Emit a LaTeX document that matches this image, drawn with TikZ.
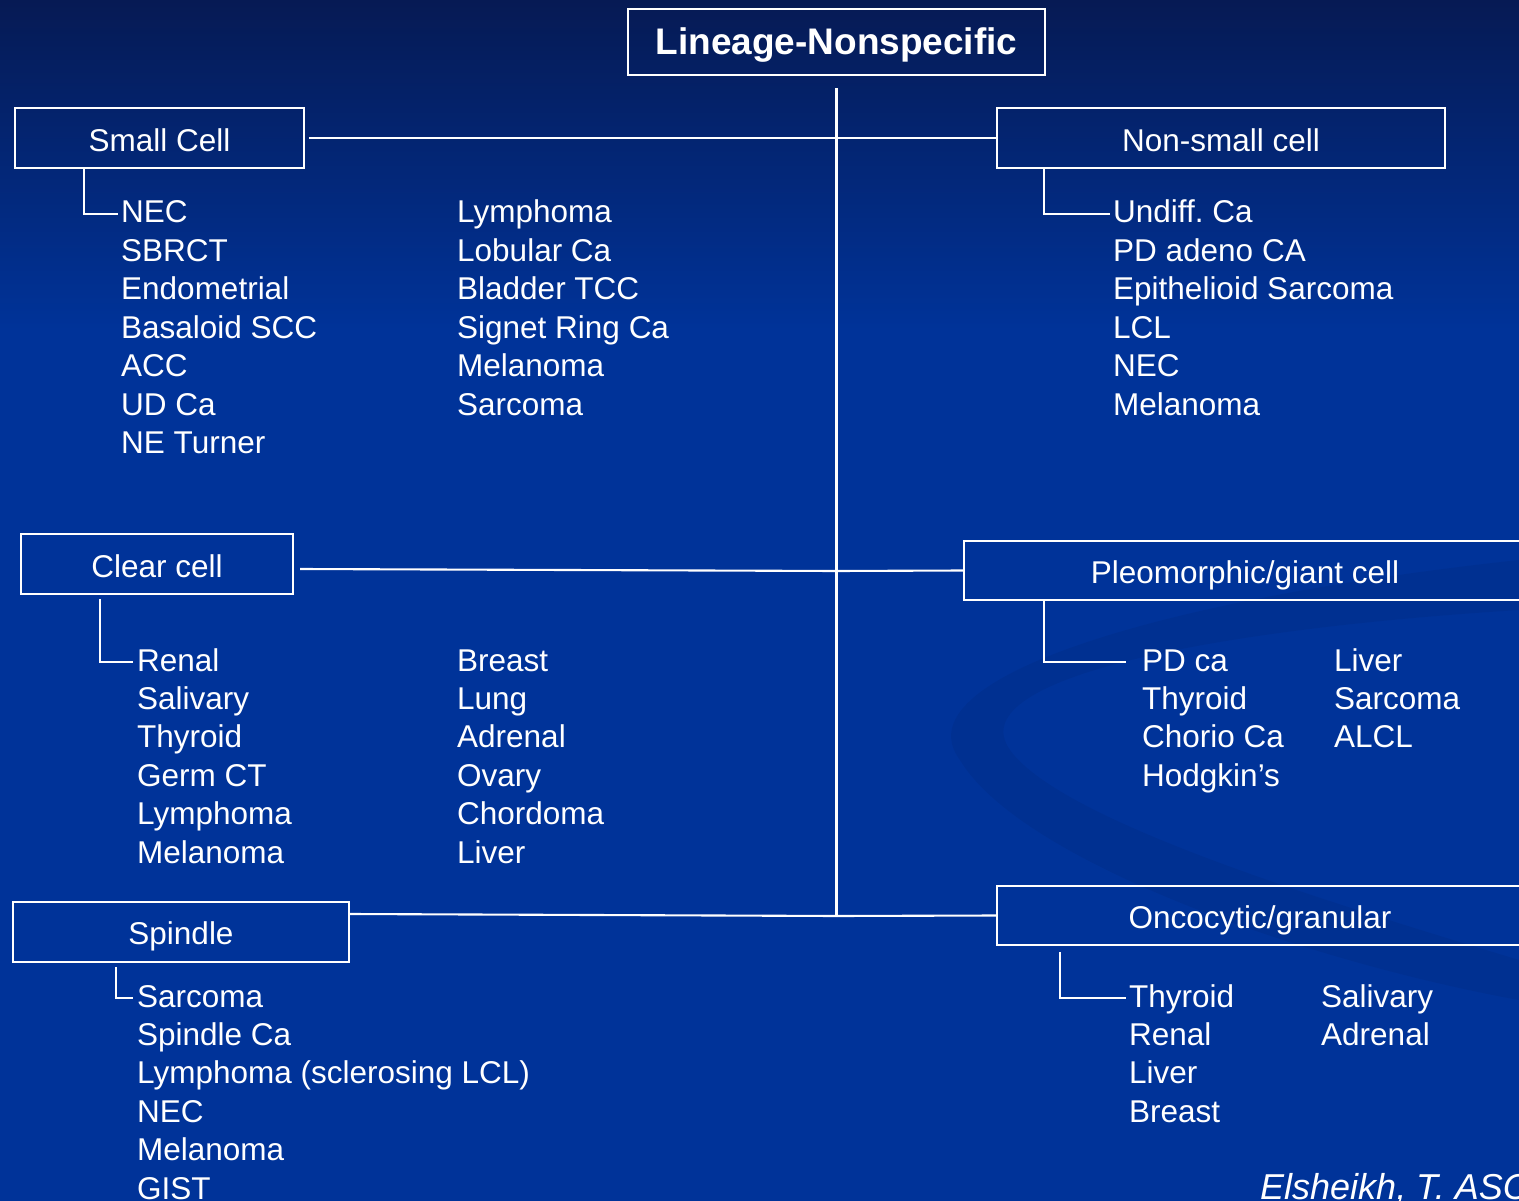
\documentclass[tikz,border=0pt]{standalone}
\usepackage{fontspec}
\setmainfont{Liberation Sans}
\usetikzlibrary{positioning, calc}
\definecolor{navytop}{RGB}{6,26,84}
\definecolor{slideblue}{RGB}{0,51,153}

\tikzset{
  catbox/.style={draw=white, line width=2.1pt, minimum height=60pt, inner sep=0pt,
    text height=26pt, text depth=0pt,
    text=white, font=\fontsize{31.5}{38.4}\selectfont},
  item/.style={anchor=base west, inner sep=0pt, text=white,
    font=\fontsize{31.5}{38.4}\selectfont},
  link/.style={draw=white, line width=2.1pt},
}

\begin{document}
\frenchspacing
\begin{tikzpicture}[x=1pt, y=-1pt]
  \useasboundingbox (0,0) rectangle (1519,1201);
  \clip (0,0) rectangle (1519,1201);
  % slide background
  \fill[slideblue] (0,0) rectangle (1519,1201);
  \shade[top color=navytop, bottom color=slideblue] (0,0) rectangle (1519,330);
  \fill[black, opacity=0.05] (1519,560) .. controls (1150,600) and (900,680) .. (960,760)
    .. controls (1020,860) and (1300,960) .. (1519,1000) -- (1519,960)
    .. controls (1320,900) and (1060,820) .. (1010,750)
    .. controls (960,680) and (1200,630) .. (1519,610) -- cycle;

  % boxes
  \node[catbox, minimum width=417pt, minimum height=66pt,
    font=\bfseries\fontsize{37}{44}\selectfont] (lineage) at (836.5,42) {Lineage-Nonspecific};
  \node[catbox, minimum width=289pt, text height=28pt] (smallcell) at (159.5,138) {Small Cell};
  \node[catbox, minimum width=448pt, text height=28pt] (nonsmall) at (1221,138) {Non-small cell};
  \node[catbox, minimum width=272pt] (clearcell) at (157,564) {Clear cell};
  \node[catbox, minimum width=562pt, minimum height=59pt] (pleo) at (1245,570.5) {Pleomorphic/giant cell};
  \node[catbox, minimum width=336pt, text height=24pt] (spindle) at (181,932) {Spindle};
  \node[catbox, minimum width=526pt, minimum height=59pt] (onco) at (1260,915.5) {Oncocytic/granular};

  % trunk and branches
  \coordinate (j2) at (836.5,571);
  \coordinate (j3) at (836.5,916);
  \draw[link] ([yshift=-12pt]lineage.south) -- (j3);
  \draw[link] ([xshift=4pt]smallcell.east) -- (nonsmall.west);
  \draw[link] ([xshift=6pt,yshift=-5pt]clearcell.east) -- (j2) -- (pleo.west);
  \draw[link] ([yshift=18pt]spindle.east) -- (j3) -- (onco.west);

  % lists
  \foreach \name [count=\i] in {NEC, SBRCT, Endometrial, Basaloid SCC, ACC, UD Ca, NE Turner}
    \node[item] (sc-a\i) at (121,{223+38.4*(\i-1)}) {\name};
  \foreach \name [count=\i] in {Lymphoma, Lobular Ca, Bladder TCC, Signet Ring Ca, Melanoma, Sarcoma}
    \node[item] (sc-b\i) at (457,{223+38.4*(\i-1)}) {\name};
  \foreach \name [count=\i] in {Undiff. Ca, PD adeno CA, Epithelioid Sarcoma, LCL, NEC, Melanoma}
    \node[item] (ns-a\i) at (1113,{223+38.4*(\i-1)}) {\name};
  \foreach \name [count=\i] in {Renal, Salivary, Thyroid, Germ CT, Lymphoma, Melanoma}
    \node[item] (cc-a\i) at (137,{671+38.4*(\i-1)}) {\name};
  \foreach \name [count=\i] in {Breast, Lung, Adrenal, Ovary, Chordoma, Liver}
    \node[item] (cc-b\i) at (457,{671+38.4*(\i-1)}) {\name};
  \foreach \name [count=\i] in {PD ca, Thyroid, Chorio Ca, Hodgkin’s}
    \node[item] (pg-a\i) at (1142,{671+38.4*(\i-1)}) {\name};
  \foreach \name [count=\i] in {Liver, Sarcoma, ALCL}
    \node[item] (pg-b\i) at (1334,{671+38.4*(\i-1)}) {\name};
  \foreach \name [count=\i] in {Sarcoma, Spindle Ca, Lymphoma (sclerosing LCL), NEC, Melanoma, GIST}
    \node[item] (sp-a\i) at (137,{1007+38.4*(\i-1)}) {\name};
  \foreach \name [count=\i] in {Thyroid, Renal, Liver, Breast}
    \node[item] (on-a\i) at (1129,{1007+38.4*(\i-1)}) {\name};
  \foreach \name [count=\i] in {Salivary, Adrenal}
    \node[item] (on-b\i) at (1321,{1007+38.4*(\i-1)}) {\name};

  % brackets
  \draw[link] ([xshift=70pt]smallcell.south west) |- ([xshift=-3pt,yshift=6pt]sc-a1.mid west);
  \draw[link] ([xshift=48pt,yshift=2pt]nonsmall.south west) |- ([xshift=-3pt,yshift=6pt]ns-a1.mid west);
  \draw[link] ([xshift=80pt,yshift=-4pt]clearcell.south west) |- ([xshift=-4pt,yshift=6pt]cc-a1.mid west);
  \draw[link] ([xshift=81pt,yshift=2pt]pleo.south west) |- ([xshift=-16pt,yshift=6pt]pg-a1.mid west);
  \draw[link] ([xshift=104pt,yshift=-4pt]spindle.south west) |- ([xshift=-4pt,yshift=6pt]sp-a1.mid west);
  \draw[link] ([xshift=64pt,yshift=-6pt]onco.south west) |- ([xshift=-3pt,yshift=6pt]on-a1.mid west);

  % source
  \node[item, font=\itshape\fontsize{36}{43}\selectfont] (source) at (1260,1199) {Elsheikh, T. ASC};
\end{tikzpicture}
\end{document}
